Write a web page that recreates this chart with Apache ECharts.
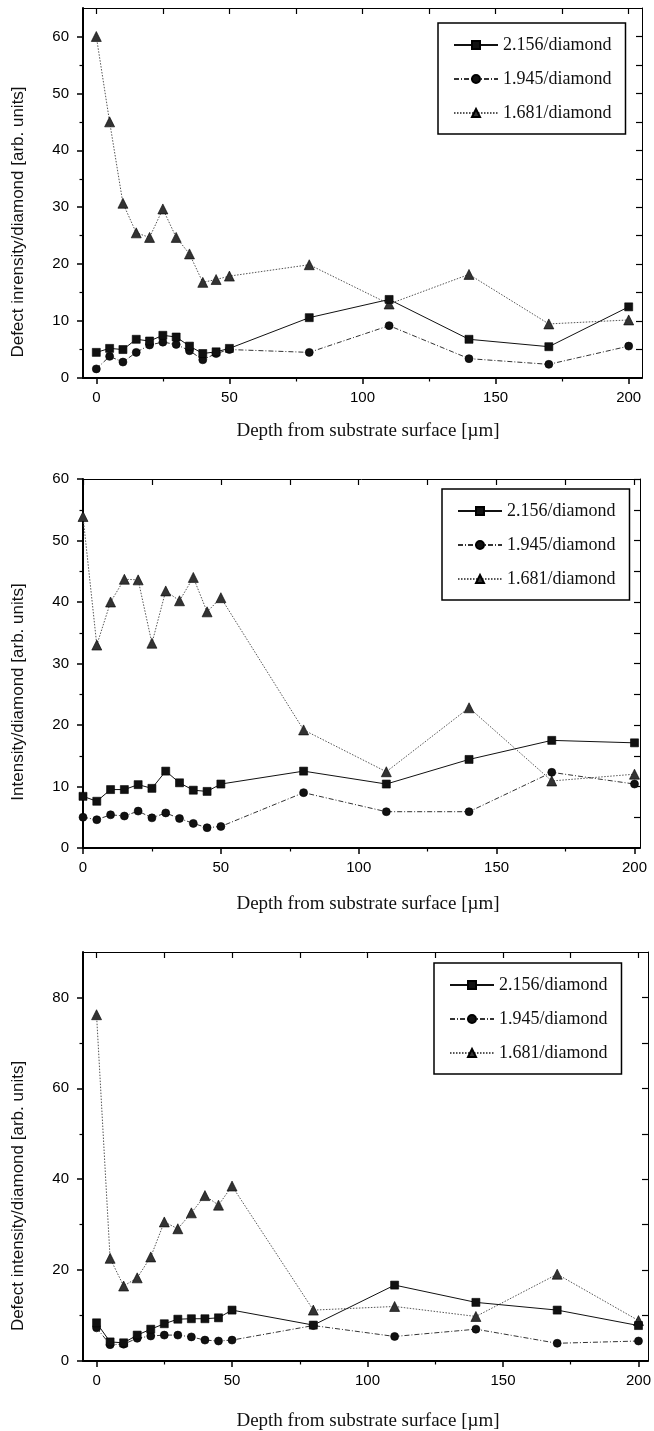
<!DOCTYPE html>
<html>
<head>
<meta charset="utf-8">
<title>Defect intensity vs depth</title>
<script src="https://cdn.jsdelivr.net/npm/echarts@6/dist/echarts.min.js"></script>
<style>
html, body { margin: 0; padding: 0; background: #fff; }
#main { width: 654px; height: 1431px; }
</style>
</head>
<body>
<div id="main"></div>
<script>
// depth from substrate surface [um], same for all 3 panels
var depth = [0, 5, 10, 15, 20, 25, 30, 35, 40, 45, 50, 80, 110, 140, 170, 200];
var names = ['2.156/diamond', '1.945/diamond', '1.681/diamond'];

// panel 1 (top)
var sq1 = [4.5, 5.2, 5.0, 6.8, 6.5, 7.5, 7.2, 5.6, 4.3, 4.6, 5.2, 10.6, 13.8, 6.8, 5.5, 12.5];
var ci1 = [1.6, 3.8, 2.8, 4.5, 5.8, 6.3, 5.9, 4.8, 3.2, 4.3, 5.0, 4.5, 9.2, 3.4, 2.4, 5.6];
var tr1 = [60.0, 45.0, 30.7, 25.5, 24.7, 29.7, 24.7, 21.8, 16.8, 17.3, 17.9, 19.9, 13.0, 18.2, 9.5, 10.2];

// panel 2 (middle)
var sq2 = [8.4, 7.6, 9.5, 9.5, 10.3, 9.7, 12.5, 10.6, 9.4, 9.2, 10.4, 12.5, 10.4, 14.4, 17.5, 17.1];
var ci2 = [5.0, 4.6, 5.4, 5.2, 6.0, 4.9, 5.7, 4.8, 4.0, 3.3, 3.5, 9.0, 5.9, 5.9, 12.3, 10.4];
var tr2 = [53.9, 33.0, 40.0, 43.7, 43.6, 33.3, 41.8, 40.2, 44.0, 38.4, 40.7, 19.2, 12.4, 22.8, 10.9, 12.0];

// panel 3 (bottom)
var sq3 = [8.4, 4.2, 4.0, 5.7, 7.0, 8.2, 9.2, 9.3, 9.3, 9.5, 11.2, 7.9, 16.7, 12.9, 11.2, 7.8];
var ci3 = [7.3, 3.6, 3.7, 5.0, 5.5, 5.7, 5.7, 5.3, 4.6, 4.4, 4.6, 7.8, 5.4, 7.0, 3.9, 4.4];
var tr3 = [76.2, 22.6, 16.5, 18.3, 22.9, 30.6, 29.1, 32.6, 36.4, 34.3, 38.5, 11.2, 12.0, 9.8, 19.1, 8.9];

// tick labels
var xTicks = [0, 50, 100, 150, 200];
var xMinor = [25, 75, 125, 175];
var yTicks1 = [0, 10, 20, 30, 40, 50, 60];
var yMinor1 = [5, 15, 25, 35, 45, 55];
var yTicks2 = [0, 10, 20, 30, 40, 50, 60];
var yMinor2 = [5, 15, 25, 35, 45, 55];
var yTicks3 = [0, 20, 40, 60, 80];
var yMinor3 = [10, 30, 50, 70];

var yTitles = ['Defect inrensity/diamond [arb. units]', 'Intensity/diamond [arb. units]', 'Defect intensity/diamond [arb. units]'];
var xTitle = 'Depth from substrate surface [\u00b5m]';

var sansFont = '"Liberation Sans", Arial, sans-serif';
var serifFont = '"Liberation Serif", "Times New Roman", serif';

var panels = [
  { grid: { left: 83, top: 8, width: 559, height: 370 }, xMin: -5, xMax: 205, yMin: 0, yMax: 65,
    yTicks: yTicks1, yMinor: yMinor1, data: [sq1, ci1, tr1], legend: { left: 438, top: 23 },
    yTitleY: 222, xTitleY: 431 },
  { grid: { left: 83, top: 479, width: 557, height: 369 }, xMin: 0, xMax: 202, yMin: 0, yMax: 60,
    yTicks: yTicks2, yMinor: yMinor2, data: [sq2, ci2, tr2], legend: { left: 442, top: 489 },
    yTitleY: 692, xTitleY: 904 },
  { grid: { left: 83, top: 952, width: 570, height: 409 }, xMin: -5, xMax: 203.5, yMin: 0, yMax: 90,
    yTicks: yTicks3, yMinor: yMinor3, data: [sq3, ci3, tr3], legend: { left: 434, top: 963 },
    yTitleY: 1196, xTitleY: 1421 }
];

function pairs(ys) {
  return depth.map(function (d, i) { return [d, ys[i]]; });
}

var seriesStyle = [
  { symbol: 'rect', symbolSize: 8, lineType: 'solid', lineColor: '#111', fill: '#111' },
  { symbol: 'circle', symbolSize: 8, lineType: [5, 2, 1, 2], lineColor: '#333', fill: '#111' },
  { symbol: 'triangle', symbolSize: 10, lineType: [1.5, 1.5], lineColor: '#555', fill: '#333' }
];

var grids = [], xAxes = [], yAxes = [], series = [], legends = [], graphics = [];

panels.forEach(function (p, g) {
  grids.push(p.grid);
  var noSplit = { show: false };
  var lbl = { fontSize: 15, color: '#000', fontFamily: sansFont };

  // bottom axis with labels and major ticks
  xAxes.push({
    gridIndex: g, type: 'value', position: 'bottom', min: p.xMin, max: p.xMax,
    axisLine: { show: true, onZero: false, lineStyle: { color: '#000', width: 2 } },
    axisTick: { show: true, inside: false, length: 6, customValues: xTicks, lineStyle: { color: '#000', width: 1.5 } },
    axisLabel: Object.assign({ customValues: xTicks, margin: 12 }, lbl),
    splitLine: noSplit
  });
  // bottom minor ticks
  xAxes.push({
    gridIndex: g, type: 'value', position: 'bottom', min: p.xMin, max: p.xMax,
    axisLine: { show: false, onZero: false },
    axisTick: { show: true, inside: false, length: 3.5, customValues: xMinor, lineStyle: { color: '#000', width: 1.2 } },
    axisLabel: { show: false }, splitLine: noSplit
  });
  // top mirror
  xAxes.push({
    gridIndex: g, type: 'value', position: 'top', min: p.xMin, max: p.xMax,
    axisLine: { show: true, onZero: false, lineStyle: { color: '#000', width: 1 } },
    axisTick: { show: true, inside: true, length: 6, customValues: xTicks.concat(xMinor), lineStyle: { color: '#000', width: 1.2 } },
    axisLabel: { show: false }, splitLine: noSplit
  });

  // left axis
  yAxes.push({
    gridIndex: g, type: 'value', position: 'left', min: p.yMin, max: p.yMax,
    axisLine: { show: true, onZero: false, lineStyle: { color: '#000', width: 2 } },
    axisTick: { show: true, inside: false, length: 6, customValues: p.yTicks, lineStyle: { color: '#000', width: 1.5 } },
    axisLabel: Object.assign({ customValues: p.yTicks, margin: 14 }, lbl),
    splitLine: noSplit
  });
  yAxes.push({
    gridIndex: g, type: 'value', position: 'left', min: p.yMin, max: p.yMax,
    axisLine: { show: false, onZero: false },
    axisTick: { show: true, inside: false, length: 3.5, customValues: p.yMinor, lineStyle: { color: '#000', width: 1.2 } },
    axisLabel: { show: false }, splitLine: noSplit
  });
  // right mirror
  yAxes.push({
    gridIndex: g, type: 'value', position: 'right', min: p.yMin, max: p.yMax,
    axisLine: { show: true, onZero: false, lineStyle: { color: '#000', width: 1 } },
    axisTick: { show: true, inside: true, length: 6, customValues: p.yTicks.slice(1).concat(p.yMinor), lineStyle: { color: '#000', width: 1.2 } },
    axisLabel: { show: false }, splitLine: noSplit
  });

  p.data.forEach(function (ys, k) {
    var st = seriesStyle[k];
    series.push({
      name: names[k], type: 'line', xAxisIndex: g * 3, yAxisIndex: g * 3,
      data: pairs(ys), symbol: st.symbol, symbolSize: st.symbolSize, showAllSymbol: true,
      lineStyle: { color: st.lineColor, width: 1, type: st.lineType },
      itemStyle: { color: st.fill, borderColor: '#000', borderWidth: 0.6 },
      z: 3 - k
    });
  });

  legends.push({
    left: p.legend.left, top: p.legend.top, orient: 'vertical',
    data: names.slice(), selectedMode: false,
    itemWidth: 44, itemHeight: 10, itemGap: 16,
    borderColor: '#000', borderWidth: 1.5, padding: [13, 14, 12, 15],
    textStyle: { fontFamily: serifFont, fontSize: 18, color: '#111' }
  });

  graphics.push({
    type: 'text', x: 18, y: p.yTitleY, rotation: Math.PI / 2,
    style: { text: yTitles[g], fontFamily: sansFont, fontSize: 17, fill: '#111', align: 'center', verticalAlign: 'middle' }
  });
  graphics.push({
    type: 'text', x: 368, y: p.xTitleY,
    style: { text: xTitle, fontFamily: serifFont, fontSize: 19, fill: '#111', align: 'center', verticalAlign: 'middle' }
  });
});

var chart = echarts.init(document.getElementById('main'), null, { renderer: 'canvas' });
chart.setOption({
  animation: false,
  backgroundColor: '#fff',
  grid: grids,
  xAxis: xAxes,
  yAxis: yAxes,
  legend: legends,
  graphic: graphics,
  series: series
});
</script>
</body>
</html>
